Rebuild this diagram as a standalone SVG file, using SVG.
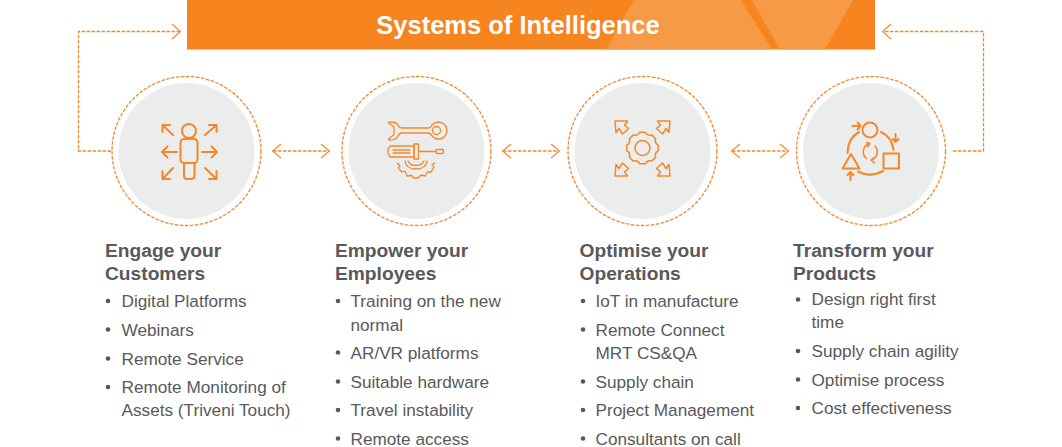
<svg xmlns="http://www.w3.org/2000/svg" width="1062" height="447" viewBox="0 0 1062 447">
<style>
.t{font-family:"Liberation Sans",Arial,sans-serif;font-size:17.2px;fill:#58595b}
.h{font-family:"Liberation Sans",Arial,sans-serif;font-size:19.200px;font-weight:bold;fill:#58595b}
.d{fill:none;stroke:#f6862a;stroke-width:1.300;stroke-dasharray:3.500 1.500}
.a{fill:none;stroke:#f6862a;stroke-width:1.100}
.i{fill:none;stroke:#f6862a;stroke-width:2;stroke-linecap:round;stroke-linejoin:round}
.n{stroke-width:1.300}
.g{stroke-width:1.500}
.b{fill:#58595b}
.bg{fill:#ebeded}
</style>
<g id="banner">
<rect x="187" y="0" width="688" height="49.500" fill="#f6851f"/>
<path d="M634 0H741L772 49.500H606Z M752 0H853L825 49.500H780Z" fill="#f79a46"/>
<text x="518" y="34" text-anchor="middle" font-family="Liberation Sans,Arial,sans-serif" font-size="25.500" font-weight="bold" fill="#fff">Systems of Intelligence</text>
</g>
<g id="connectors">
<path class="d" d="M111 151H78.500V31.500H180"/>
<path class="a" d="M172 24L180.500 31.500L172 39"/>
<path class="d" d="M953 151H983.500V31.500H883"/>
<path class="a" d="M891 24L882.500 31.500L891 39"/>
<path class="d" d="M273 151H329"/><path class="a" d="M281 144L272.500 151L281 158M321 144L329.500 151L321 158"/>
<path class="d" d="M503 151H559"/><path class="a" d="M511 144L502.500 151L511 158M551 144L559.500 151L551 158"/>
<path class="d" d="M732 151H788"/><path class="a" d="M740 144L731.500 151L740 158M780 144L788.500 151L780 158"/>
</g>
<g id="node-customers">
<circle class="d" cx="186.500" cy="151" r="74.500"/><circle class="bg" cx="186.500" cy="151" r="68"/>
<g class="i"><circle cx="189" cy="131" r="7"/><rect x="180.500" y="139" width="17" height="24" rx="3.500"/><path d="M184 163V176Q184 179 187 179H191Q194.500 179 194.500 176V163"/>
<path d="M177 152H162M167.500 146.500L162 152L167.500 157.500M202 152H217M211.500 146.500L217 152L211.500 157.500"/>
<path d="M173 135L162.500 125M162.500 132V125H170M205 135L216.500 125M209 125H216.500V132M173 168L162.500 179M162.500 171V179H170M205 168L216.500 179M216.500 171V179H209"/></g>
<text class="h" x="105" y="257">Engage your</text><text class="h" x="105" y="280">Customers</text>
<circle class="b" cx="108" cy="301" r="2.300"/><text class="t" x="121.500" y="307">Digital Platforms</text>
<circle class="b" cx="108" cy="329.500" r="2.300"/><text class="t" x="121.500" y="335.500">Webinars</text>
<circle class="b" cx="108" cy="358.500" r="2.300"/><text class="t" x="121.500" y="364.500">Remote Service</text>
<circle class="b" cx="108" cy="387" r="2.300"/><text class="t" x="121.500" y="393">Remote Monitoring of</text><text class="t" x="121.500" y="416">Assets (Triveni Touch)</text>
</g>
<g id="node-employees">
<circle class="d" cx="416.500" cy="151" r="74.500"/><circle class="bg" cx="416.500" cy="151" r="68"/>
<g class="i n"><path d="M403 128H428Q431 128 432 125A8.500 8.500 0 1 1 432 136Q431 133 428 133H402Q399 133 398 136Q396 140 390 140Q388 140 388.500 139L394 134.500V127L388.500 123Q388 122 390 122Q396 122 398 125Q399 128 403 128Z"/><circle cx="436.500" cy="130.500" r="4"/>
<path d="M390 146H414V157H390L388 153V149.500Z"/><path d="M414 144H418.500V159H414ZM418.500 151.500H436"/><rect x="436" y="149.500" width="7.500" height="4" rx="1"/><path d="M393 150H410M393 153H410"/>
<path d="M397.500 163L400 166L398 168L402 172L405 171L407 176L411.500 175.500L414 178L418 178L421 175L425 176L427.500 172L431 172L434 167L432 165L434.500 163"/>
<path d="M405 161Q406 169 416 169Q426 169 427 161M408 161Q410 165.500 416 165.500Q422 165.500 424 161"/></g>
<text class="h" x="335" y="257">Empower your</text><text class="h" x="335" y="280">Employees</text>
<circle class="b" cx="338" cy="301" r="2.300"/><text class="t" x="350.500" y="307">Training on the new</text><text class="t" x="350.500" y="330.500">normal</text>
<circle class="b" cx="338" cy="352.500" r="2.300"/><text class="t" x="350.500" y="358.500">AR/VR platforms</text>
<circle class="b" cx="338" cy="381.500" r="2.300"/><text class="t" x="350.500" y="387.500">Suitable hardware</text>
<circle class="b" cx="338" cy="410" r="2.300"/><text class="t" x="350.500" y="416">Travel instability</text>
<circle class="b" cx="338" cy="438.500" r="2.300"/><text class="t" x="350.500" y="444.500">Remote access</text>
</g>
<g id="node-operations">
<circle class="d" cx="642.500" cy="151" r="74.500"/><circle class="bg" cx="642.500" cy="151" r="68"/>
<g class="i g"><circle cx="642.500" cy="148" r="7.500"/>
<path d="M658.260 145.220L658.260 150.780Q654.330 152.900 655.600 157.180L651.680 161.100Q647.400 159.830 645.280 163.760L639.720 163.760Q637.600 159.830 633.320 161.100L629.400 157.180Q630.670 152.900 626.740 150.780L626.740 145.220Q630.670 143.100 629.400 138.820L633.320 134.900Q637.600 136.170 639.720 132.240L645.280 132.240Q647.400 136.170 651.680 134.900L655.600 138.820Q654.330 143.100 658.260 145.220Z"/>
<path d="M615 121H627.500L624.500 125L628.500 128.500L622.500 134L619 128.500L616 132.500Z"/>
<path d="M670 121H657.500L660.500 125L656.500 128.500L662.500 134L666 128.500L669 132.500Z"/>
<path d="M615 176H627.500L624.500 172L628.500 168.500L622.500 163L619 168.500L616 164.500Z"/>
<path d="M670 176H657.500L660.500 172L656.500 168.500L662.500 163L666 168.500L669 164.500Z"/></g>
<text class="h" x="579.500" y="257">Optimise your</text><text class="h" x="579.500" y="280">Operations</text>
<circle class="b" cx="583" cy="301" r="2.300"/><text class="t" x="595.500" y="307">IoT in manufacture</text>
<circle class="b" cx="583" cy="329.500" r="2.300"/><text class="t" x="595.500" y="335.500">Remote Connect</text><text class="t" x="595.500" y="358.500">MRT CS&amp;QA</text>
<circle class="b" cx="583" cy="381.500" r="2.300"/><text class="t" x="595.500" y="387.500">Supply chain</text>
<circle class="b" cx="583" cy="410" r="2.300"/><text class="t" x="595.500" y="416">Project Management</text>
<circle class="b" cx="583" cy="438.500" r="2.300"/><text class="t" x="595.500" y="444.500">Consultants on call</text>
</g>
<g id="node-products">
<circle class="d" cx="871" cy="151" r="74.500"/><circle class="bg" cx="871" cy="151" r="68"/>
<g class="i"><circle cx="870" cy="130" r="7.500"/><rect x="883.500" y="153.500" width="15.500" height="15"/><path d="M851 154L842.500 168.500H859.500Z"/>
<path d="M859 132Q848 138 847.500 153M881 132Q892 137 893.500 150M858 171.500Q870 178 883 171"/>
<path d="M852.500 126H860.500M857.500 122.500L860.500 126L857.500 129.500M895.500 134V142M892.500 139L895.500 142L898.500 139M850.500 180V172M847.500 175L850.500 172L853.500 175"/>
<path class="g" d="M870 143.500A8.500 8.500 0 0 0 866.500 158.500M866.500 142.500L870 143.500L867.500 147M875 146A8.500 8.500 0 0 1 871 160M875 157L871 160L874.500 163"/></g>
<text class="h" x="793" y="257">Transform your</text><text class="h" x="793" y="280">Products</text>
<circle class="b" cx="798" cy="299.500" r="2.300"/><text class="t" x="811.500" y="305">Design right first</text><text class="t" x="811.500" y="328">time</text>
<circle class="b" cx="798" cy="351" r="2.300"/><text class="t" x="811.500" y="357">Supply chain agility</text>
<circle class="b" cx="798" cy="379.500" r="2.300"/><text class="t" x="811.500" y="385.500">Optimise process</text>
<circle class="b" cx="798" cy="408" r="2.300"/><text class="t" x="811.500" y="414">Cost effectiveness</text>
</g>
</svg>
